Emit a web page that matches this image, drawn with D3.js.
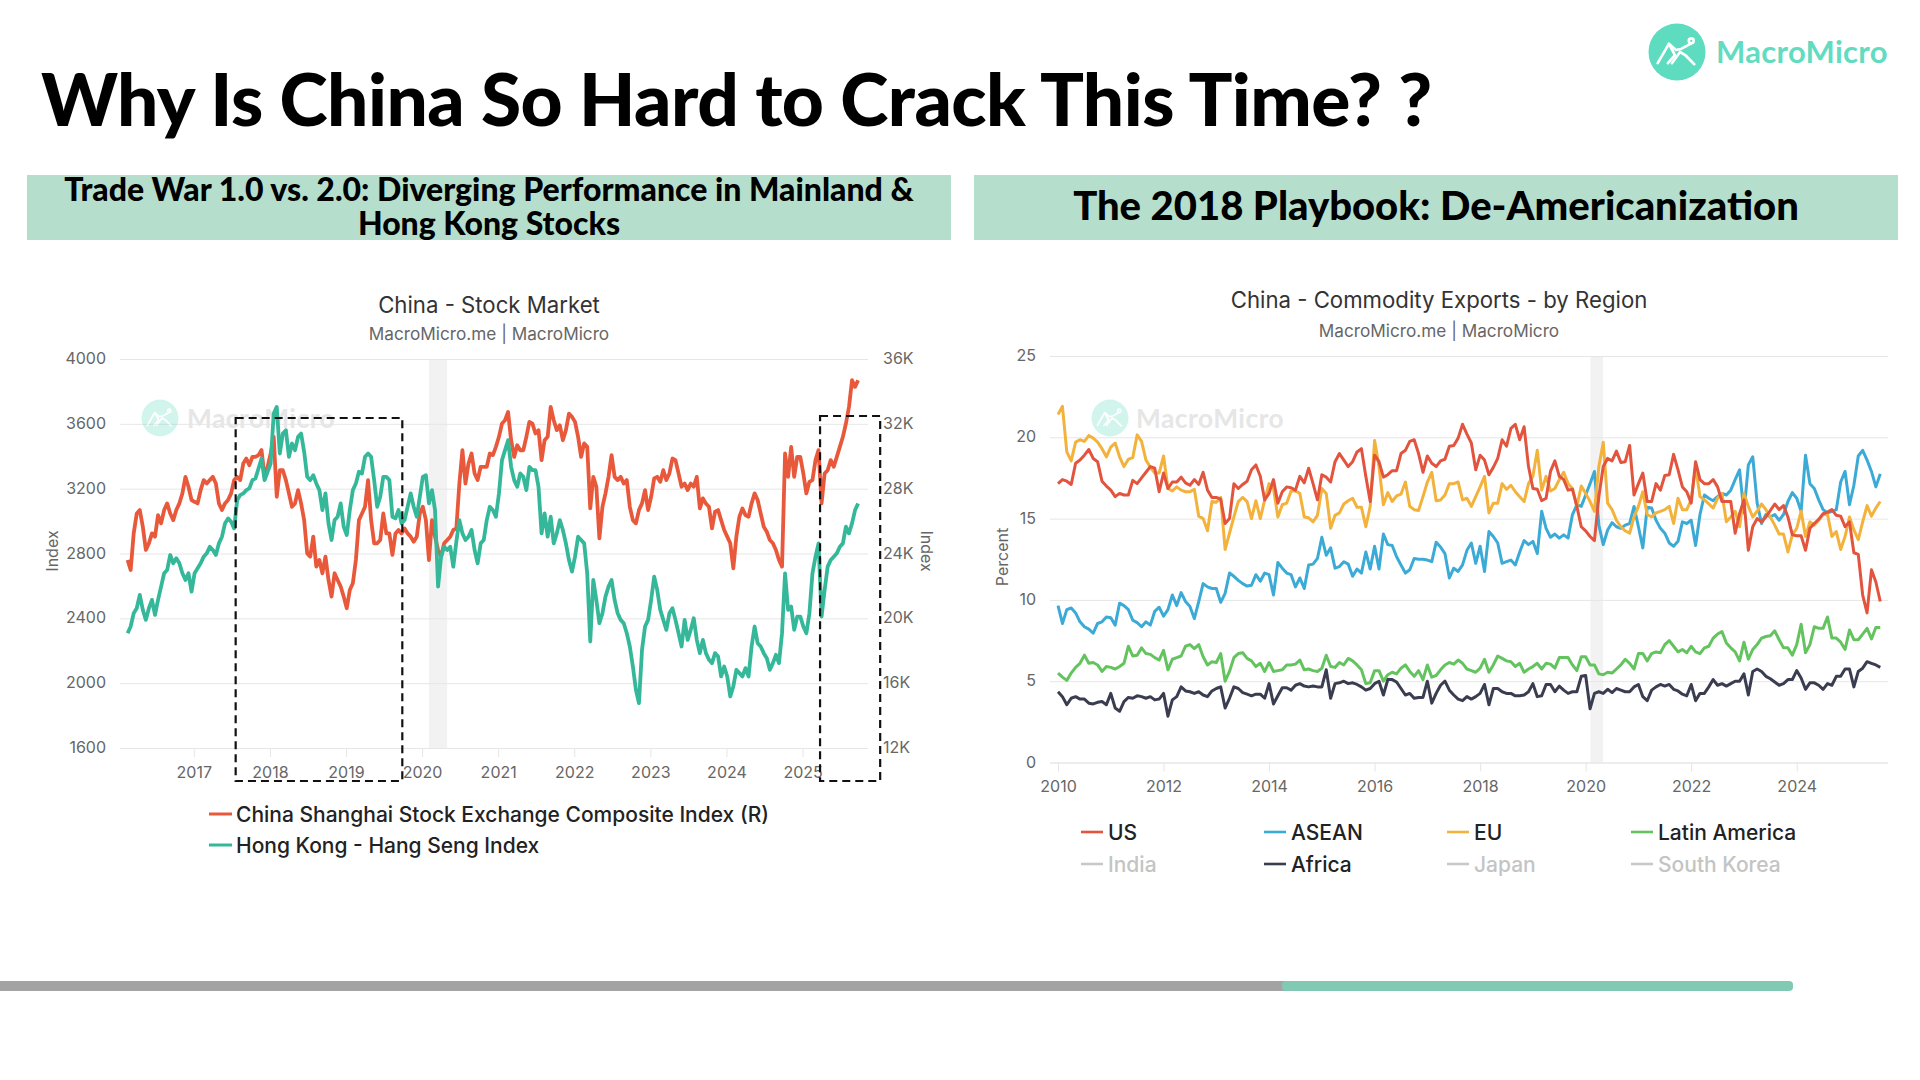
<!DOCTYPE html>
<html lang="en">
<head>
<meta charset="utf-8">
<title>Why Is China So Hard to Crack This Time?</title>
<script src="https://cdn.jsdelivr.net/npm/d3@7"></script>
<style>
  html, body { margin: 0; padding: 0; background: #fff; }
  svg { display: block; }
  text { font-family: Inter, "Noto Sans", sans-serif; }
  .heading { font-family: Lato, sans-serif; font-weight: 900; fill: #000; }
  .tick line { stroke: #e6e6e6; }
  .tick text { fill: #666; font-size: 16px; font-family: Inter, sans-serif; }
</style>
</head>
<body>
<script>
// Slide copy
const slideTitle = "Why Is China So Hard to Crack This Time? ?";
const leftHeaderLines = ["Trade War 1.0 vs. 2.0: Diverging Performance in Mainland &", "Hong Kong Stocks"];
const rightHeader = "The 2018 Playbook: De-Americanization";

// Stock market panel: one reading every 0.04 years from the start year
const stockStartYear = 2016.13;
const stockStep = 0.04;
const shanghai = [
2760,2698,2924,3047,3068,2965,2822,2863,2924,2904,3037,2986,3068,3109,3047,3006,3068,3109,3171,3273,
3212,3130,3119,3109,3191,3253,3232,3253,3273,3232,3109,3068,3109,3130,3171,3253,3273,3253,3355,3386,
3345,3396,3396,3407,3438,3273,3335,3417,3520,3150,3314,3314,3253,3171,3088,3109,3191,3109,3006,2801,
2781,2904,2719,2760,2678,2781,2637,2534,2678,2637,2596,2534,2462,2575,2616,2760,3006,3047,3088,3253,
3006,2863,2863,2883,3047,2924,2924,2791,2924,2945,2924,2955,2924,2904,2873,2904,3047,3088,3006,2760,
3006,2904,2822,2781,2863,2883,2904,2945,2955,3232,3438,3232,3355,3417,3294,3253,3335,
3335,3335,3417,3407,3458,3520,3602,3622,3673,3499,3396,3468,3437,3437,3520,3612,3601,3540,3561,3376,
3499,3520,3704,3622,3561,3591,3499,3561,3663,3643,3612,3520,3396,3479,3458,3078,3273,3212,2893,3088,
3171,3273,3407,3273,3253,3273,3232,3253,3088,3006,2986,3068,3109,3191,3068,3150,3263,3273,3242,3314,
3253,3294,3386,3376,3294,3212,3232,3191,3232,3212,3273,3078,3140,3109,3088,2955,3058,3068,3006,2945,
2904,2863,2709,2904,3027,3078,3037,3027,3109,3171,3130,3047,2965,2934,2883,2863,2822,2760,2719,3417,
3273,3458,3273,3396,3396,3294,3171,3242,3253,3376,3438,3109,3294,3314,3376,3335,3396,3458,3520,3602,
3704,3869,3828,3869];
const hangSeng = [
19083,19494,20315,20623,21444,20520,19904,20623,21137,20213,21137,21957,22779,22984,23908,23395,23703,23395,22779,22368,
22779,21649,22779,23087,23395,23805,24010,24421,24216,23908,24626,25037,25858,26166,25961,25550,27295,27603,27706,27911,
28014,28527,28630,29246,29862,28527,29041,29554,32633,33044,30170,31401,31606,29964,30785,30375,31196,31401,30272,28732,
28527,28835,28322,27911,26679,27706,25858,24832,26063,26268,27090,25653,25140,26679,27911,28322,29041,28938,29964,30169,
29964,28527,26885,27501,28733,28733,28527,26269,26166,26679,25858,26063,26885,27706,26885,26269,27501,28732,28835,27090,
27911,26679,21957,23805,24421,24216,24421,23189,24729,26063,25242,24832,25037,25448,24216,23395,24626,
24832,26063,26885,26679,26269,27706,29759,30375,30991,29348,28527,28116,28938,28733,27911,29348,29143,29143,28116,25242,
26474,25037,26269,24626,25242,26063,25448,24626,23600,22881,23805,25037,24832,24626,22779,18570,22368,21136,19699,20315,
21342,21957,22368,21136,20315,19905,19699,19083,18262,17030,15593,14773,18057,19494,19905,21136,22573,21752,20521,19905,
19289,20315,20623,19905,19083,18262,19905,18673,19289,20007,18673,17852,18673,17852,17441,17236,17852,17646,16414,17030,
16414,15182,15798,16825,16620,16414,16927,16414,18262,19494,18467,18262,17852,17544,16825,17236,17749,17236,19083,22778,
20521,20726,19289,20110,20110,19494,19083,20315,22779,23805,24626,20110,21752,23189,23600,23805,24010,24421,24626,25653,
25242,25858,26679,27090];
const stockLeftTicks = [1600, 2000, 2400, 2800, 3200, 3600, 4000];
const stockRightTicks = [12000, 16000, 20000, 24000, 28000, 32000, 36000];
const stockYearTicks = [2017, 2018, 2019, 2020, 2021, 2022, 2023, 2024, 2025];
const stockLegend = ["China Shanghai Stock Exchange Composite Index (R)", "Hong Kong - Hang Seng Index"];

// Exports panel: monthly share of exports, starting January 2010
const exportsStartYear = 2010;
const usShare = [
17.15,17.4,17.3,17.1,18.4,18.6,18.9,19.25,18.7,18.5,17.3,17.0,16.75,16.35,16.55,16.45,16.45,17.35,17.15,17.5,
17.85,18.2,18.1,16.65,17.8,16.85,17.25,17.25,17.55,17.2,17.05,17.4,17.1,17.85,16.75,16.3,16.3,16.2,14.7,15.0,
17.15,16.85,17.1,17.3,18.0,18.3,17.6,16.15,16.55,17.4,15.95,16.65,16.95,16.9,16.75,17.6,17.2,18.1,17.15,16.15,
17.7,17.55,17.25,18.5,19.0,18.6,18.2,18.5,19.1,19.3,17.6,16.05,18.9,18.5,17.55,17.7,17.95,17.95,19.0,19.2,
19.75,19.85,19.0,17.85,18.85,18.4,18.2,18.55,18.65,19.45,19.5,19.95,20.8,20.2,19.65,18.0,18.9,18.6,17.7,18.15,
18.7,19.85,19.45,20.55,20.8,19.85,20.65,18.2,16.85,16.8,16.1,16.25,17.9,18.55,17.6,17.4,16.75,16.8,15.75,14.5,
14.25,13.9,13.65,16.35,18.2,18.7,18.55,19.15,18.45,18.5,19.5,16.45,17.15,17.8,16.05,16.05,17.15,16.75,17.65,17.7,
18.95,18.0,16.95,16.65,15.95,18.5,17.4,17.15,17.15,17.4,16.95,16.05,16.05,16.05,14.1,15.3,16.15,13.05,14.5,15.0,
14.8,15.1,15.5,15.9,15.55,15.8,15.1,14.0,13.95,13.95,13.05,14.4,14.7,14.95,15.3,15.4,15.55,15.2,15.15,14.5,
14.8,12.9,12.8,10.3,9.2,11.85,11.1,9.9];
const aseanShare = [
9.65,8.55,9.4,9.5,9.2,8.65,8.35,8.2,7.95,8.55,8.65,8.95,8.9,8.45,9.8,9.65,9.4,8.75,8.6,8.35,
8.65,8.45,9.3,9.55,9.0,9.4,10.3,9.65,10.45,9.9,9.6,8.85,9.9,11.0,10.8,10.7,10.7,9.85,10.4,11.65,
11.45,11.2,11.0,10.85,10.9,11.55,11.15,11.65,11.55,10.3,12.3,11.95,11.65,11.55,10.8,11.35,10.7,12.15,12.2,12.55,
13.85,12.75,13.2,11.95,12.05,12.35,12.2,11.45,11.9,11.65,12.95,11.9,13.3,11.9,14.05,13.4,13.35,12.65,12.15,11.65,
11.85,12.55,12.5,12.5,12.45,12.35,13.55,13.25,12.85,11.35,11.95,11.75,12.15,13.05,13.5,12.25,13.3,11.75,14.2,13.9,
13.5,12.25,12.35,12.45,12.15,12.95,13.65,13.4,13.6,12.85,15.45,14.4,13.85,14.05,13.8,14.0,13.8,15.25,15.85,15.75,
16.45,17.15,17.9,14.6,13.4,14.3,14.75,14.5,14.4,14.6,14.7,15.75,14.5,13.2,15.7,15.65,14.9,14.4,14.1,13.5,
13.3,13.6,14.8,14.7,14.9,13.35,15.25,16.45,16.25,16.1,16.35,16.55,16.45,16.75,17.4,18.0,15.35,18.3,18.8,15.95,
14.7,15.25,15.1,15.25,14.9,15.25,16.05,16.6,16.25,15.45,18.9,17.15,16.85,16.15,15.55,15.35,15.45,15.55,17.25,17.9,
15.85,17.05,18.85,19.2,18.6,17.9,16.95,17.75];
const euShare = [
21.4,21.9,19.1,18.55,19.7,19.85,19.75,20.1,19.95,19.7,19.3,18.8,19.4,19.65,18.8,18.2,18.65,18.75,20.15,19.75,
18.6,18.15,17.8,17.8,18.85,16.85,16.7,16.95,16.75,16.65,16.65,16.8,15.15,15.0,14.25,16.05,16.0,16.3,13.1,14.1,
15.1,16.05,16.3,16.05,15.0,16.1,15.0,16.15,17.15,16.85,15.1,15.85,15.95,16.7,16.7,16.55,15.1,15.05,14.8,15.2,
16.85,16.55,14.4,15.2,15.35,15.9,16.1,16.25,15.7,15.7,14.5,15.75,19.8,18.2,15.85,16.6,16.05,16.4,16.5,17.25,
15.75,15.55,15.5,16.35,17.25,17.85,16.1,16.15,16.45,17.15,17.15,17.25,16.15,16.25,15.75,16.35,16.95,17.6,15.35,15.95,
15.95,17.15,16.8,17.05,16.65,16.35,16.05,17.15,17.6,19.2,16.75,17.6,16.7,16.85,17.4,17.85,17.15,16.85,15.75,17.0,
16.55,16.05,15.45,18.2,19.7,15.95,15.55,14.9,14.5,14.25,14.1,15.1,15.75,16.65,15.25,15.1,15.35,15.45,15.55,15.75,
14.7,16.25,15.55,15.55,16.15,18.2,16.35,16.15,15.9,15.65,16.25,16.55,14.8,15.1,15.45,14.5,16.55,15.75,15.1,15.45,
15.9,15.55,15.1,14.6,14.05,14.05,12.95,14.0,14.4,15.45,13.9,14.8,14.6,14.9,15.25,15.25,13.9,14.2,13.1,13.9,
15.1,14.3,13.7,14.8,15.8,15.15,15.65,16.05];
const latamShare = [
5.5,5.25,5.05,5.5,5.85,6.1,6.6,6.1,6.15,6.0,5.6,5.9,5.85,5.75,5.9,6.1,7.15,6.55,6.6,7.05,
6.7,6.65,6.45,6.3,6.9,5.7,6.35,6.45,6.55,7.15,7.25,7.0,7.25,6.5,6.0,6.2,6.15,6.7,5.0,5.6,
6.45,6.7,6.75,6.4,6.25,5.9,6.1,5.6,6.15,5.6,5.65,5.7,6.0,6.0,6.05,6.3,5.7,5.75,5.65,5.6,
5.8,6.6,5.9,5.85,6.15,6.0,6.4,6.25,6.0,5.7,4.85,4.9,5.65,5.65,5.0,5.4,5.55,5.45,5.8,6.0,
5.6,5.3,5.65,5.1,6.0,5.25,5.35,5.7,6.0,6.15,6.05,6.3,6.1,5.75,5.65,5.55,5.8,6.35,5.55,6.0,
6.55,6.4,6.25,6.2,5.9,6.1,5.55,5.75,5.9,6.1,5.75,6.1,6.05,5.8,6.45,6.45,6.45,6.0,5.65,6.5,
6.5,6.0,6.0,5.45,5.4,5.55,5.5,5.75,6.0,6.35,6.1,5.75,6.7,6.7,6.25,6.7,6.8,6.75,7.25,7.5,
7.15,6.8,6.95,6.75,7.15,6.8,6.7,7.05,7.15,7.65,7.9,8.05,7.35,7.05,6.8,6.25,7.4,6.35,6.95,7.25,
7.65,7.75,7.8,8.1,7.55,7.05,7.05,6.6,7.25,8.5,6.75,7.25,8.35,8.25,8.25,8.95,7.65,7.65,7.4,6.95,
8.15,7.55,7.55,7.9,8.25,7.6,8.3,8.3];
const africaShare = [
4.35,4.05,3.55,3.95,4.05,3.9,3.9,3.65,3.6,3.7,3.75,3.55,4.25,3.35,3.15,3.75,4.0,3.95,4.1,4.05,
3.95,4.05,3.85,3.9,4.25,2.85,3.85,4.05,4.65,4.4,4.35,4.25,4.35,4.15,4.05,4.4,4.55,4.65,3.35,3.95,
4.65,4.55,4.3,4.2,4.1,4.2,4.2,3.95,4.85,3.6,4.1,4.6,4.6,4.45,4.75,4.85,4.7,4.65,4.7,4.65,
4.65,5.7,3.95,4.85,4.9,5.0,4.85,4.9,4.8,4.65,4.45,4.55,4.85,5.0,4.15,5.1,5.1,4.95,4.55,4.15,
4.25,3.95,4.0,4.0,5.0,3.65,4.25,4.75,5.0,4.45,4.15,3.9,3.8,4.05,3.9,4.05,4.25,4.8,3.55,4.55,
4.55,4.35,4.25,4.25,4.1,4.1,4.15,4.35,4.85,4.05,4.1,4.8,4.8,4.35,4.7,4.45,4.25,4.35,4.35,5.3,
5.35,3.3,4.25,4.35,4.25,4.5,4.3,4.55,4.45,4.35,4.35,4.65,4.8,4.05,3.8,4.45,4.65,4.8,4.7,4.8,
4.5,4.4,4.2,4.1,4.8,3.8,4.25,4.25,4.65,5.1,4.75,4.85,4.7,4.85,5.0,5.0,5.45,4.15,5.6,5.75,
5.6,5.3,5.15,4.95,4.75,4.85,5.1,5.1,5.65,5.2,4.5,4.9,4.9,4.75,4.5,4.85,4.75,5.3,5.3,5.75,
5.75,4.65,5.6,5.8,6.2,6.1,6.0,5.85];
const exportsTicks = [0, 5, 10, 15, 20, 25];
const exportsYearTicks = [2010, 2012, 2014, 2016, 2018, 2020, 2022, 2024];

// Pandemic shading, in decimal years
const stockBand = [2020.09, 2020.33];
const exportsBand = [2020.09, 2020.33];

// Dashed highlight windows on the stock panel, in decimal years
const highlightWindows = [[2017.55, 2019.74], [2025.23, 2026.02]];

const legendRows = [
  {name: "US", color: "#e2543e"}, {name: "ASEAN", color: "#3caad6"}, {name: "EU", color: "#f3b23c"}, {name: "Latin America", color: "#63c45f"},
  {name: "India", color: "#c8c8c8", off: true}, {name: "Africa", color: "#3a3d50"}, {name: "Japan", color: "#c8c8c8", off: true}, {name: "South Korea", color: "#c8c8c8", off: true}
];

const svg = d3.select("body").append("svg").attr("width", 1920).attr("height", 1080);
svg.append("rect").attr("width", 1920).attr("height", 1080).attr("fill", "#fff");

// The MacroMicro mark: a disc with a rising zigzag and a small end dot
function brandMark(parent, cx, cy, r, fill, opacity) {
  const g = parent.append("g").attr("transform", `translate(${cx},${cy}) scale(${r / 28})`).attr("opacity", opacity);
  g.append("circle").attr("r", 28).attr("fill", fill);
  const stroke = g.append("g").attr("fill", "none").attr("stroke", "#fff").attr("stroke-width", 2.6).attr("stroke-linejoin", "round").attr("stroke-linecap", "round");
  stroke.append("path").attr("d", "M-19,11 L-8,-8 L-2,3 L-9,11");
  stroke.append("path").attr("d", "M-8,-8 L-1,-2 L4,-3 L15,-9");
  stroke.append("path").attr("d", "M-5,11 L3,0 L8,3 L17,12");
  stroke.append("circle").attr("cx", 14).attr("cy", -11).attr("r", 2.4).attr("fill", fill);
}

// Title, logo, section banners
svg.append("text").attr("class", "heading").attr("x", 41).attr("y", 126)
  .attr("font-size", 73).attr("letter-spacing", -0.52).text(slideTitle);

brandMark(svg, 1677, 52, 28.5, "#5edcbf", 1);
svg.append("text").attr("x", 1716).attr("y", 63).attr("font-size", 31).attr("font-weight", 700)
  .style("font-family", "Lato, sans-serif").attr("fill", "#62dcc1").attr("letter-spacing", 0.3).text("MacroMicro");

[[27, 924], [974, 924]].forEach(([x, w]) => {
  svg.append("rect").attr("x", x).attr("y", 175).attr("width", w).attr("height", 65).attr("fill", "#b5decd");
});
leftHeaderLines.forEach((t, i) => {
  svg.append("text").attr("class", "heading").attr("x", 489).attr("y", 201 + i * 34)
    .attr("text-anchor", "middle").attr("font-size", 32).text(t);
});
svg.append("text").attr("class", "heading").attr("x", 1436).attr("y", 220)
  .attr("text-anchor", "middle").attr("font-size", 40).text(rightHeader);

// Shared panel furniture
function panelTitles(cx, titleY, subY, title) {
  svg.append("text").attr("x", cx).attr("y", titleY).attr("text-anchor", "middle")
    .attr("font-size", 22.2).attr("fill", "#333").text(title);
  svg.append("text").attr("x", cx).attr("y", subY).attr("text-anchor", "middle")
    .attr("font-size", 17.2).attr("fill", "#666").text("MacroMicro.me | MacroMicro");
}
function axisTitle(x, y, rotation, text) {
  svg.append("text").attr("transform", `translate(${x},${y}) rotate(${rotation})`)
    .attr("text-anchor", "middle").attr("font-size", 16).attr("fill", "#666").text(text);
}
function watermark(cx, cy, textX) {
  brandMark(svg, cx, cy, 18.5, "#5edcbf", 0.28);
  svg.append("text").attr("x", textX).attr("y", cy + 10).attr("font-size", 26.3).attr("font-weight", 700)
    .style("font-family", "Lato, sans-serif").attr("fill", "#e6e6e6").attr("letter-spacing", 0.5).text("MacroMicro");
}
function drawGrid(scale, ticks, x0, x1, fmt) {
  const g = svg.append("g").attr("transform", `translate(${x0},0)`)
    .call(d3.axisLeft(scale).tickValues(ticks).tickSize(-(x1 - x0)).tickPadding(14).tickFormat(fmt));
  g.select(".domain").remove();
  g.selectAll(".tick text").attr("dy", "0.29em");
  return g;
}
function drawYears(scale, ticks, y, x0, x1) {
  const g = svg.append("g").attr("transform", `translate(0,${y})`)
    .call(d3.axisBottom(scale).tickValues(ticks).tickSize(9).tickPadding(9.5).tickFormat(d3.format("d")));
  g.select(".domain").attr("stroke", "#e6e6e6").attr("d", `M${x0},0.5H${x1}`);
}

// ---- Stock market panel ----
const stockX = d3.scaleLinear().domain([2016.03, 2025.86]).range([120, 868]);
const stockYL = d3.scaleLinear().domain([1600, 4000]).range([748, 359]);
const stockYR = d3.scaleLinear().domain([12000, 36000]).range([748, 359]);

panelTitles(489, 313, 340, "China - Stock Market");
axisTitle(58, 551, -90, "Index");
axisTitle(921, 551, 90, "Index");

svg.append("rect").attr("x", stockX(stockBand[0])).attr("y", 359)
  .attr("width", stockX(stockBand[1]) - stockX(stockBand[0])).attr("height", 389).attr("fill", "#f2f2f2");

drawGrid(stockYL, stockLeftTicks, 120, 868, d3.format("d"));
const stockRight = svg.append("g").attr("transform", "translate(868,0)")
  .call(d3.axisRight(stockYR).tickValues(stockRightTicks).tickSize(0).tickPadding(15).tickFormat(d => d / 1000 + "K"));
stockRight.select(".domain").remove();
stockRight.selectAll(".tick text").attr("dy", "0.29em");
drawYears(stockX, stockYearTicks, 748, 120, 868);
watermark(160, 418, 187);

const stockLine = y => d3.line().x((d, i) => stockX(stockStartYear + i * stockStep)).y(d => y(d)).curve(d3.curveLinear);
svg.append("path").datum(shanghai).attr("d", stockLine(stockYL)).attr("fill", "none").attr("stroke", "#e8593c").attr("stroke-width", 3.8).attr("stroke-linejoin", "round");
svg.append("path").datum(hangSeng).attr("d", stockLine(stockYR)).attr("fill", "none").attr("stroke", "#35b899").attr("stroke-width", 3.8).attr("stroke-linejoin", "round");

highlightWindows.forEach(([a, b]) => {
  svg.append("rect").attr("x", stockX(a)).attr("y", a > 2020 ? 416 : 418)
    .attr("width", stockX(b) - stockX(a)).attr("height", a > 2020 ? 365 : 363)
    .attr("fill", "none").attr("stroke", "#111").attr("stroke-width", 2.2).attr("stroke-dasharray", "8 5");
});

[[stockLegend[0], "#e8593c", 814], [stockLegend[1], "#35b899", 845]].forEach(([name, color, y]) => {
  svg.append("line").attr("x1", 209).attr("x2", 232).attr("y1", y).attr("y2", y).attr("stroke", color).attr("stroke-width", 3);
  svg.append("text").attr("x", 236).attr("y", y + 7.5).attr("font-size", 21).attr("font-weight", 500).attr("fill", "#222").text(name);
});

// ---- Exports panel ----
const expX = d3.scaleLinear().domain([2009.848, 2025.73]).range([1050, 1888]);
const expY = d3.scaleLinear().domain([0, 25]).range([762.5, 356]);

panelTitles(1439, 308, 337, "China - Commodity Exports - by Region");
axisTitle(1008, 557, -90, "Percent");

svg.append("rect").attr("x", expX(exportsBand[0])).attr("y", 356)
  .attr("width", expX(exportsBand[1]) - expX(exportsBand[0])).attr("height", 406.5).attr("fill", "#f2f2f2");

drawGrid(expY, exportsTicks, 1050, 1888, d3.format("d"));
drawYears(expX, exportsYearTicks, 762.5, 1050, 1888);
watermark(1110, 418, 1136);

const monthLine = d3.line().x((d, i) => expX(exportsStartYear + i / 12)).y(d => expY(d));
[[aseanShare, "#3caad6"], [euShare, "#f3b23c"], [latamShare, "#63c45f"], [africaShare, "#3a3d50"], [usShare, "#e2543e"]].forEach(([s, color]) => {
  svg.append("path").datum(s).attr("d", monthLine).attr("fill", "none").attr("stroke", color).attr("stroke-width", 3).attr("stroke-linejoin", "round");
});

const legendX = [1081, 1264, 1447, 1631];
legendRows.forEach((item, i) => {
  const x = legendX[i % 4], y = i < 4 ? 832 : 864;
  svg.append("line").attr("x1", x).attr("x2", x + 22).attr("y1", y).attr("y2", y).attr("stroke", item.color).attr("stroke-width", 2.6);
  svg.append("text").attr("x", x + 27).attr("y", y + 7.5).attr("font-size", 21).attr("font-weight", 500)
    .attr("fill", item.off ? "#c4c4c4" : "#222").text(item.name);
});

// Slide progress bar along the foot
svg.append("rect").attr("x", 0).attr("y", 981).attr("width", 1300).attr("height", 10).attr("fill", "#a3a3a3");
svg.append("rect").attr("x", 1282).attr("y", 981).attr("width", 511).attr("height", 10).attr("rx", 4).attr("fill", "#81c9b3");
</script>
</body>
</html>
